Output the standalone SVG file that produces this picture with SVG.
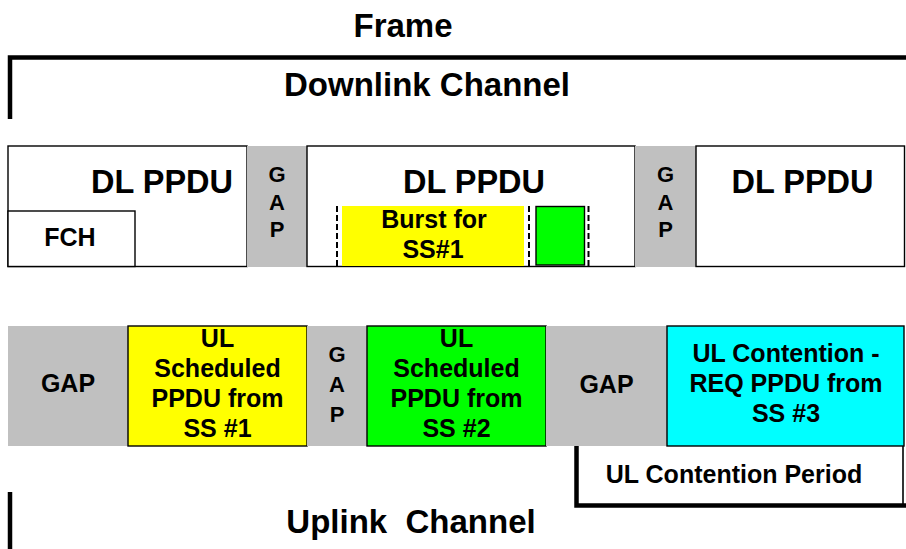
<svg xmlns="http://www.w3.org/2000/svg" width="906" height="549" viewBox="0 0 906 549">
  <style>
    text { font-family: "Liberation Sans", Arial, sans-serif; font-weight: bold; fill: #000; text-anchor: middle; }
    .title { font-size: 33px; }
    .ppdu { font-size: 32.5px; }
    .lbl { font-size: 25px; }
    .gapv { font-size: 22px; }
    .box { stroke: #000; stroke-width: 1.4; }
    .white { fill: #fff; }
    .gap { fill: #c0c0c0; }
    .yellow { fill: #ffff00; }
    .green { fill: #00ff00; }
    .cyan { fill: #00ffff; }
    .thick { stroke: #000; stroke-width: 4.5; fill: none; }
    .thin { stroke: #000; stroke-width: 1.6; fill: none; }
    .dash { stroke: #000; stroke-width: 2; stroke-dasharray: 6 3; fill: none; }
  </style>

  <!-- headings -->
  <text id="frame-title" class="title" x="403" y="37">Frame</text>
  <text id="downlink-title" class="title" x="427" y="96">Downlink Channel</text>
  <text id="uplink-title" class="title" x="411" y="533" xml:space="preserve">Uplink  Channel</text>

  <!-- frame / channel brackets -->
  <g id="brackets">
    <path class="thick" d="M10 119 V57.5 H906"/>
    <path class="thick" d="M10 492 V549"/>
    <path class="thick" d="M576.5 446 V505.5 H906"/>
    <path class="thin" d="M903 446 V505"/>
  </g>

  <!-- downlink subframe -->
  <g id="dl-ppdu-1">
    <rect class="white box" x="8" y="146" width="239" height="120.5"/>
    <text class="ppdu" x="162" y="193">DL PPDU</text>
  </g>
  <g id="fch">
    <rect class="white box" x="8" y="211" width="127" height="55.5"/>
    <text class="lbl" x="70" y="246">FCH</text>
  </g>
  <g id="dl-gap-1">
    <rect class="gap" x="247" y="146" width="60" height="121"/>
    <text class="gapv" x="277" y="182">G</text>
    <text class="gapv" x="277" y="210">A</text>
    <text class="gapv" x="277" y="237">P</text>
  </g>
  <g id="dl-ppdu-2">
    <rect class="white box" x="307" y="146" width="328" height="120.5"/>
    <text class="ppdu" x="474" y="193">DL PPDU</text>
  </g>
  <g id="burst-ss1">
    <rect class="yellow" x="342" y="206" width="182" height="60"/>
    <text class="lbl" x="434" y="228">Burst for</text>
    <text class="lbl" x="433" y="258">SS#1</text>
  </g>
  <g id="burst-ss2">
    <rect class="green box" x="536" y="206.5" width="48.5" height="58.5"/>
  </g>
  <g id="burst-marks">
    <line class="dash" x1="337" y1="206" x2="337" y2="266"/>
    <line class="dash" x1="529" y1="206" x2="529" y2="266"/>
    <line class="dash" x1="588.5" y1="206" x2="588.5" y2="266"/>
  </g>
  <g id="dl-gap-2">
    <rect class="gap" x="635" y="146" width="61" height="121"/>
    <text class="gapv" x="665.5" y="182">G</text>
    <text class="gapv" x="665.5" y="210">A</text>
    <text class="gapv" x="665.5" y="237">P</text>
  </g>
  <g id="dl-ppdu-3">
    <rect class="white box" x="696" y="146" width="208.5" height="120.5"/>
    <text class="ppdu" x="802.5" y="193">DL PPDU</text>
  </g>

  <!-- uplink subframe -->
  <g id="ul-gap-1">
    <rect class="gap" x="8" y="326" width="120" height="120"/>
    <text class="lbl" x="68" y="392">GAP</text>
  </g>
  <g id="ul-ss1">
    <rect class="yellow box" x="128" y="326" width="179" height="120"/>
    <text class="lbl" x="217.5" y="347">UL</text>
    <text class="lbl" x="217.5" y="377">Scheduled</text>
    <text class="lbl" x="217.5" y="407">PPDU from</text>
    <text class="lbl" x="217.5" y="437">SS #1</text>
  </g>
  <g id="ul-gap-2">
    <rect class="gap" x="307" y="326" width="60" height="120"/>
    <text class="gapv" x="337" y="362">G</text>
    <text class="gapv" x="337" y="392">A</text>
    <text class="gapv" x="337" y="422">P</text>
  </g>
  <g id="ul-ss2">
    <rect class="green box" x="367" y="326" width="179" height="120"/>
    <text class="lbl" x="456.5" y="347">UL</text>
    <text class="lbl" x="456.5" y="377">Scheduled</text>
    <text class="lbl" x="456.5" y="407">PPDU from</text>
    <text class="lbl" x="456.5" y="437">SS #2</text>
  </g>
  <g id="ul-gap-3">
    <rect class="gap" x="546" y="326" width="121" height="120"/>
    <text class="lbl" x="606.5" y="393">GAP</text>
  </g>
  <g id="ul-contention">
    <rect class="cyan box" x="667" y="326" width="237" height="120"/>
    <text class="lbl" x="786" y="362">UL Contention -</text>
    <text class="lbl" x="786" y="392">REQ PPDU from</text>
    <text class="lbl" x="786" y="422">SS #3</text>
  </g>
  <g id="ul-contention-period">
    <text class="lbl" x="734" y="483">UL Contention Period</text>
  </g>
</svg>
